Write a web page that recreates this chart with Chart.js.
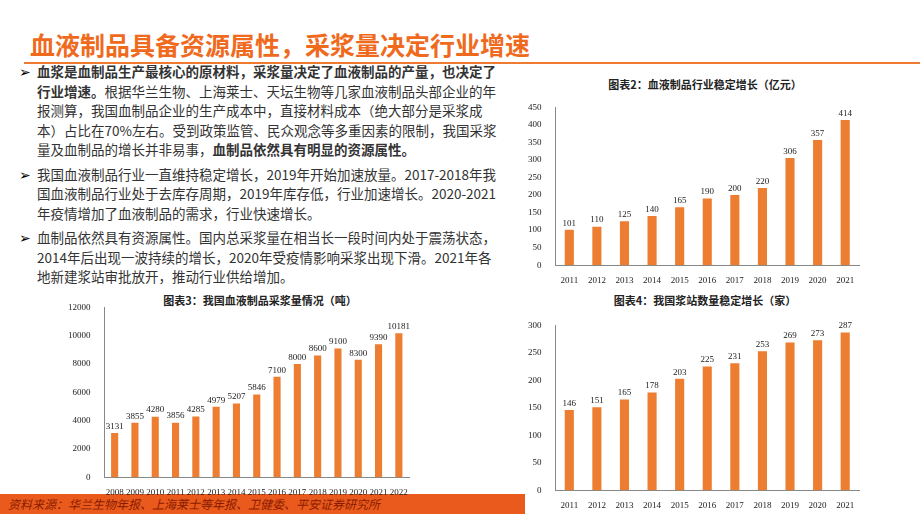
<!DOCTYPE html><html><head><meta charset="utf-8">
<script src="https://cdn.jsdelivr.net/npm/chart.js@4"></script>
<style>
body{margin:0;width:920px;height:518px;position:relative;background:#fff;font-family:"Noto Sans CJK SC";overflow:hidden}
.a{position:absolute}
#title{left:30px;top:27px;font-size:25px;font-weight:bold;color:#F06A1E;line-height:34px}
#rule{left:24px;top:62px;width:896px;height:2px;background:#F07A30}
#txt{left:19px;top:62px;width:480px;font-size:13.5px;line-height:19.5px;color:#333}
#txt p{margin:0 0 5px 0;padding-left:18px;position:relative}
#txt p:before{content:"➢";position:absolute;left:0;top:0;color:#000}
.ct{font-size:11px;font-weight:bold;color:#222;text-align:center}
#foot{left:0;top:494px;width:525px;height:20px;background:#E95A1C;color:#8B1A00;font-style:italic;font-size:12px;line-height:20px;padding-left:8px;box-sizing:border-box}
canvas{position:absolute}
</style></head><body>
<div id="title" class="a">血液制品具备资源属性，采浆量决定行业增速</div>
<div id="rule" class="a"></div>
<div id="txt" class="a">
<p><b>血浆是血制品生产最核心的原材料，采浆量决定了血液制品的产量，也决定了行业增速。</b>根据华兰生物、上海莱士、天坛生物等几家血液制品头部企业的年报测算，我国血制品企业的生产成本中，直接材料成本（绝大部分是采浆成本）占比在70%左右。受到政策监管、民众观念等多重因素的限制，我国采浆量及血制品的增长并非易事，<b>血制品依然具有明显的资源属性。</b></p>
<p>我国血液制品行业一直维持稳定增长，2019年开始加速放量。2017-2018年我国血液制品行业处于去库存周期，2019年库存低，行业加速增长。2020-2021年疫情增加了血液制品的需求，行业快速增长。</p>
<p>血制品依然具有资源属性。国内总采浆量在相当长一段时间内处于震荡状态，2014年后出现一波持续的增长，2020年受疫情影响采浆出现下滑。2021年各地新建浆站审批放开，推动行业供给增加。</p>
</div>
<div class="a ct" style="left:550px;top:76px;width:310px">图表2：血液制品行业稳定增长（亿元）</div>
<div class="a ct" style="left:60px;top:292px;width:400px">图表3：我国血液制品采浆量情况（吨）</div>
<div class="a ct" style="left:540px;top:292px;width:330px">图表4：我国浆站数量稳定增长（家）</div>
<div id="foot" class="a">资料来源：华兰生物年报、上海莱士等年报、卫健委、平安证券研究所</div>
<canvas id="c2" style="left:522px;top:96px" width="343" height="192"></canvas>
<canvas id="c3" style="left:62px;top:296px" width="353" height="204"></canvas>
<canvas id="c4" style="left:522px;top:314px" width="343" height="199"></canvas>
<script>
const years2=["2011","2012","2013","2014","2015","2016","2017","2018","2019","2020","2021"];
const values2=[101,110,125,140,165,190,200,220,306,357,414];
const years3=["2008","2009","2010","2011","2012","2013","2014","2015","2016","2017","2018","2019","2020","2021","2022"];
const values3=[3131,3855,4280,3856,4285,4979,5207,5846,7100,8000,8600,9100,8300,9390,10181];
const years4=["2011","2012","2013","2014","2015","2016","2017","2018","2019","2020","2021"];
const values4=[146,151,165,178,203,225,231,253,269,273,287];
const lbl={id:'lbl',afterDatasetsDraw(c){const x=c.ctx;x.save();x.font='9px "Liberation Serif"';x.fillStyle='#222';x.textAlign='center';x.textBaseline='bottom';
c.getDatasetMeta(0).data.forEach((b,i)=>x.fillText(c.data.datasets[0].data[i],b.x,b.y-2));x.restore();}};
function mk(id,labels,data,max,step,bp){
new Chart(document.getElementById(id),{type:'bar',data:{labels,datasets:[{data,backgroundColor:'#ED7D31',barPercentage:bp,categoryPercentage:1}]},
options:{responsive:false,animation:false,plugins:{legend:{display:false},tooltip:{enabled:false}},layout:{padding:{top:4,right:6}},
scales:{x:{grid:{display:false},border:{color:'#888'},ticks:{color:'#222',font:{family:'Liberation Serif',size:9},maxRotation:0,autoSkip:false,padding:2}},
y:{min:0,max,grid:{display:false},border:{color:'#888'},ticks:{stepSize:step,color:'#222',font:{family:'Liberation Serif',size:9},padding:6,callback:v=>String(v)}}}},plugins:[lbl]});}
mk('c2',years2,values2,450,50,0.33);
mk('c3',years3,values3,12000,2000,0.35);
mk('c4',years4,values4,300,50,0.33);
</script></body></html>
